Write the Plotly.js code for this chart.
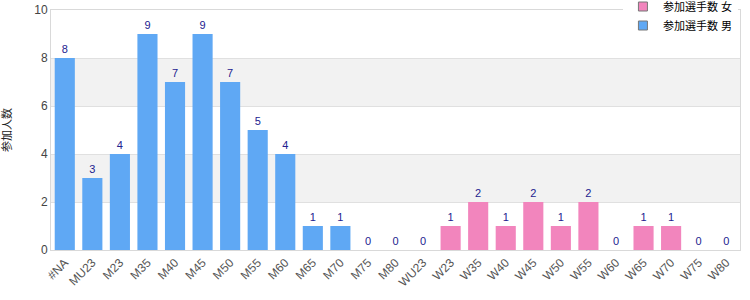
<!DOCTYPE html>
<html>
<head>
<meta charset="utf-8">
<script src="https://cdn.plot.ly/plotly-3.0.1.min.js"></script>
<style>html,body{margin:0;padding:0;background:#fff;}#chart{width:750px;height:300px;}</style>
</head>
<body>
<div id="chart"></div>
<script>
const categories = ["#NA","MU23","M23","M35","M40","M45","M50","M55","M60","M65","M70","M75","M80",
  "WU23","W23","W35","W40","W45","W50","W55","W60","W65","W70","W75","W80"];
const menValues = [8,3,4,9,7,9,7,5,4,1,1,0,0,
  null,null,null,null,null,null,null,null,null,null,null,null];
const womenValues = [null,null,null,null,null,null,null,null,null,null,null,null,null,
  0,1,2,1,2,1,2,0,1,1,0,0];
const womenName = "参加選手数 女";
const menName = "参加選手数 男";
const yTitle = "参加人数";
const yTicks = [0,2,4,6,8,10];
const shadedBands = [[2,4],[6,8]];

const blue = "#5fa8f4";
const pink = "#f285bd";
const labelColor = "#22228f";
const font = "Liberation Sans, Arial, Noto Sans CJK JP, sans-serif";

function barTrace(vals, color, name) {
  return {
    type: "bar", x: categories, y: vals, name: name,
    marker: {color: color},
    text: vals.map(v => v === null ? "" : String(v)),
    textposition: "outside", cliponaxis: false,
    textfont: {color: labelColor, size: 11, family: font},
    showlegend: false, hoverinfo: "x+y"
  };
}
function legendTrace(color, name) {
  return {
    type: "scatter", mode: "markers", x: [categories[0]], y: [null], name: name,
    marker: {color: color, symbol: "square", size: 9, line: {color: "#777", width: 1}},
    showlegend: true
  };
}

const data = [
  barTrace(menValues, blue, menName),
  barTrace(womenValues, pink, womenName),
  legendTrace(pink, womenName),
  legendTrace(blue, menName)
];

const shapes = shadedBands.map(b => ({
  type: "rect", xref: "paper", yref: "y", x0: 0, x1: 1, y0: b[0], y1: b[1],
  fillcolor: "#f2f2f2", line: {width: 0}, layer: "below"
}));

const layout = {
  width: 750, height: 300,
  margin: {l: 51, r: 10, t: 10, b: 50, autoexpand: false},
  paper_bgcolor: "#fff", plot_bgcolor: "#fff",
  barmode: "overlay", bargap: 0.27,
  font: {family: font, size: 11, color: "#444"},
  shapes: shapes,
  xaxis: {
    type: "category", categoryorder: "array", categoryarray: categories,
    range: [-0.5, categories.length - 0.5], autorange: false,
    tickangle: -45, tickfont: {size: 12, color: "#555"},
    showgrid: false, showline: true, linecolor: "#d9d9d9", mirror: true,
    ticks: "", zeroline: false, fixedrange: true
  },
  yaxis: {
    range: [0, 10], autorange: false, tickvals: yTicks, tickfont: {size: 12, color: "#444"},
    showgrid: true, gridcolor: "#e0e0e0", showline: true, linecolor: "#d9d9d9", mirror: true,
    zeroline: false, ticks: "",
    title: {text: yTitle, font: {size: 11, color: "#222"}, standoff: 20}
  },
  legend: {
    x: 0.997, xanchor: "right", y: 1.075, yanchor: "top",
    bgcolor: "#fff", font: {size: 11, color: "#000"},
    traceorder: "normal", itemwidth: 30, tracegroupgap: 0
  },
  showlegend: true
};

Plotly.newPlot("chart", data, layout, {displayModeBar: false, staticPlot: true});
</script>
</body>
</html>
